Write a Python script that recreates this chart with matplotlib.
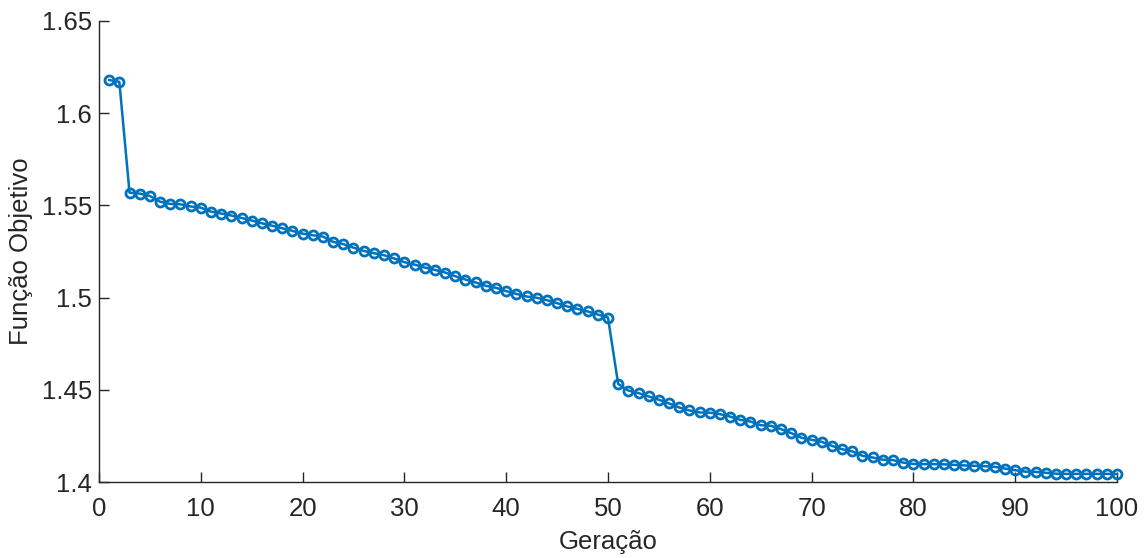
import matplotlib
matplotlib.use('Agg')
import matplotlib.pyplot as plt
from matplotlib.ticker import FuncFormatter

# ===== DATA =====
geracao = list(range(1, 101))

funcao_objetivo = [
    1.6180, 1.6170, 1.5569, 1.5564, 1.5551, 1.5520, 1.5508, 1.5506, 1.5494, 1.5488,
    1.5466, 1.5456, 1.5445, 1.5432, 1.5418, 1.5403, 1.5390, 1.5376, 1.5362, 1.5347,
    1.5338, 1.5331, 1.5302, 1.5290, 1.5271, 1.5253, 1.5241, 1.5230, 1.5212, 1.5192,
    1.5179, 1.5163, 1.5150, 1.5136, 1.5116, 1.5098, 1.5082, 1.5064, 1.5053, 1.5035,
    1.5020, 1.5006, 1.4999, 1.4986, 1.4970, 1.4952, 1.4939, 1.4925, 1.4908, 1.4892,
    1.4532, 1.4496, 1.4482, 1.4464, 1.4446, 1.4426, 1.4404, 1.4388, 1.4377, 1.4376,
    1.4368, 1.4355, 1.4337, 1.4328, 1.4308, 1.4305, 1.4287, 1.4265, 1.4240, 1.4229,
    1.4218, 1.4196, 1.4178, 1.4166, 1.4142, 1.4133, 1.4121, 1.4119, 1.4105, 1.4098,
    1.4097, 1.4097, 1.4096, 1.4093, 1.4090, 1.4088, 1.4086, 1.4082, 1.4073, 1.4064,
    1.4056, 1.4055, 1.4050, 1.4045, 1.4044, 1.4044, 1.4044, 1.4044, 1.4044, 1.4043,
]

x_ticks = [0, 10, 20, 30, 40, 50, 60, 70, 80, 90, 100]
y_ticks = [1.4, 1.45, 1.5, 1.55, 1.6, 1.65]

# ===== STYLE =====
plt.rcParams['font.family'] = ['Liberation Sans', 'DejaVu Sans']
axis_color = '#262626'
line_color = '#0072BD'
fs = 18.5

fig = plt.figure(figsize=(11.47, 5.58), dpi=100)
ax = fig.add_axes([0.0863, 0.1362, 0.9738 - 0.0863, 0.9624 - 0.1362])

ax.plot(geracao, funcao_objetivo, '-o', color=line_color, linewidth=1.8,
        markersize=6.5, markerfacecolor='none', markeredgewidth=2.0,
        clip_on=False, zorder=3)

ax.set_xlim(0, 100)
ax.set_ylim(1.4, 1.65)
ax.set_xticks(x_ticks)
ax.set_yticks(y_ticks)
ax.yaxis.set_major_formatter(FuncFormatter(lambda v, p: f"{v:g}"))

# box off, MATLAB-like axes
for side in ('top', 'right'):
    ax.spines[side].set_visible(False)
for side in ('left', 'bottom'):
    ax.spines[side].set_color(axis_color)
    ax.spines[side].set_linewidth(1.0)

ax.tick_params(direction='in', length=7, width=1.0, color=axis_color,
               labelcolor=axis_color, labelsize=fs, pad=5)
ax.tick_params(axis='x', pad=11)

ax.set_xlabel("Geração", fontsize=fs, color=axis_color, labelpad=6)
ax.set_ylabel("Função Objetivo", fontsize=fs, color=axis_color, labelpad=6)

fig.savefig("out.png", dpi=100)
